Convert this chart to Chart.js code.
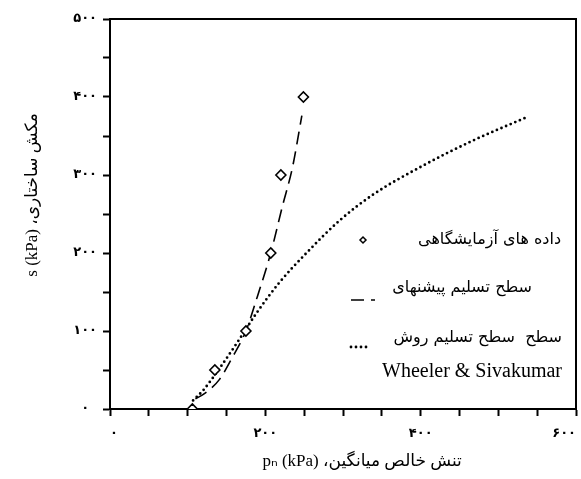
<!DOCTYPE html>
<html>
<head>
<meta charset="utf-8">
<script src="https://cdn.jsdelivr.net/npm/chart.js@4.4.1/dist/chart.umd.min.js"></script>
<style>
  html, body { margin: 0; padding: 0; background: #fff; }
  #wrap { width: 581px; height: 479px; }
</style>
</head>
<body>
<div id="wrap"><canvas id="chart" width="581" height="479"></canvas></div>
<script>
// lab data (diamonds)
const labX = [106, 135, 175, 207, 220, 249];
const labY = [0, 50, 100, 200, 300, 400];

// proposed yield surface (dashed)
const propX = [110, 122, 141, 158, 175, 190, 207, 222, 235, 247];
const propY = [13, 20, 38, 67, 100, 145, 200, 260, 310, 376];

// Wheeler & Sivakumar yield surface (dotted)
const wsX = [107, 120, 141, 167, 188, 218, 253, 296, 339, 403, 467, 534];
const wsY = [11, 24, 52, 90, 122, 162, 200, 242, 275, 312, 344, 373];

// labelled ticks, the rest every 50 are bare marks
const xTickLabels = [0, 200, 400, 600];
const yTickLabels = [0, 100, 200, 300, 400, 500];

const seriesNames = [
  'داده های آزمایشگاهی',
  'سطح تسلیم پیشنهای',
  ['سطح  سطح تسلیم روش', 'Wheeler & Sivakumar']
];
// leading nbsp's nudge the titles off-centre like the original
const nb = n => '\u00A0'.repeat(n);
const xTitle = nb(9) + '\u202Bتنش خالص میانگین، pₙ (kPa)\u202C';
const yTitle = nb(9) + '\u202Bمکش ساختاری، s (kPa)\u202C';

const faDigits = '۰۱۲۳۴۵۶۷۸۹';
const fa = v => String(v).replace(/\d/g, d => faDigits[d]);
const toPts = (xs, ys) => xs.map((x, i) => ({ x, y: ys[i] }));

const serif = "'Liberation Serif', 'DejaVu Sans', serif";

// box round the plot area, ticks only on left/bottom
const frame = {
  id: 'frame',
  afterDraw(chart) {
    const { ctx, chartArea: a } = chart;
    ctx.save();
    ctx.strokeStyle = '#000';
    ctx.lineWidth = 2;
    ctx.beginPath();
    ctx.moveTo(a.left, a.top);
    ctx.lineTo(a.right, a.top);
    ctx.lineTo(a.right, a.bottom);
    ctx.stroke();
    ctx.restore();
  }
};

// legend inside the plot, symbol on the left, text right-aligned
const legendBox = {
  id: 'legendBox',
  afterDatasetsDraw(chart) {
    const ctx = chart.ctx;
    const ds = chart.data.datasets;
    const symRows = [240, 300, 347];
    const textRows = [[240], [288], [338, 372]];
    const textRight = [561, 532, 562];
    ctx.save();
    ds.forEach((d, i) => {
      const y = symRows[i];
      ctx.strokeStyle = '#000';
      ctx.fillStyle = '#fff';
      if (d.showLine === false) {
        const cx = 363, r = 3;
        ctx.lineWidth = 1.5;
        ctx.beginPath();
        ctx.moveTo(cx - r, y); ctx.lineTo(cx, y - r); ctx.lineTo(cx + r, y); ctx.lineTo(cx, y + r);
        ctx.closePath();
        ctx.fill(); ctx.stroke();
      } else {
        ctx.lineWidth = d.borderWidth;
        ctx.lineCap = d.borderCapStyle || 'butt';
        ctx.setLineDash(d.borderDash || []);
        ctx.beginPath();
        ctx.moveTo(351, y);
        ctx.lineTo(d.borderDash[0] === 0 ? 368 : 375, y);
        ctx.stroke();
        ctx.setLineDash([]);
      }
      const lines = [].concat(d.label);
      ctx.fillStyle = '#000';
      ctx.textAlign = 'right';
      ctx.textBaseline = 'middle';
      lines.forEach((t, k) => {
        const latin = /^[A-Za-z]/.test(t);
        ctx.direction = latin ? 'ltr' : 'rtl';
        ctx.font = latin ? "20px " + serif : "16px 'DejaVu Sans'";
        ctx.fillText(t, textRight[i], textRows[i][k]);
      });
    });
    ctx.restore();
  }
};

new Chart(document.getElementById('chart'), {
  type: 'scatter',
  data: {
    datasets: [{
      label: seriesNames[0],
      data: toPts(labX, labY),
      showLine: false,
      pointStyle: 'rectRot',
      pointRadius: 5,
      pointBorderWidth: 1.6,
      pointBorderColor: '#000',
      pointBackgroundColor: '#fff',
      order: 0
    }, {
      label: seriesNames[1],
      data: toPts(propX, propY),
      showLine: true,
      borderColor: '#000',
      borderWidth: 1.6,
      borderDash: [13, 7],
      pointRadius: 0,
      cubicInterpolationMode: 'monotone',
      order: 1
    }, {
      label: seriesNames[2],
      data: toPts(wsX, wsY),
      showLine: true,
      borderColor: '#000',
      borderWidth: 2.8,
      borderDash: [0, 5],
      borderCapStyle: 'round',
      pointRadius: 0,
      cubicInterpolationMode: 'monotone',
      order: 2
    }]
  },
  options: {
    responsive: false,
    devicePixelRatio: 1,
    animation: false,
    events: [],
    layout: { padding: { top: 19, right: 5, left: 0, bottom: 0 }, autoPadding: false },
    plugins: { legend: { display: false }, tooltip: { enabled: false } },
    scales: {
      x: {
        type: 'linear',
        min: 0, max: 600,
        afterFit: s => { s.height = 70; s.paddingLeft = 0; s.paddingRight = 0; },
        border: { display: true, color: '#000', width: 2 },
        grid: { drawOnChartArea: false, drawTicks: true, tickLength: 7, tickWidth: 2, tickColor: '#000' },
        ticks: {
          stepSize: 50,
          padding: 10,
          align: 'inner',
          color: '#000',
          font: { family: 'DejaVu Sans', size: 13, weight: 'bold' },
          maxRotation: 0,
          autoSkip: false,
          callback: v => xTickLabels.includes(v) ? fa(v) : ''
        },
        title: {
          display: true,
          text: xTitle,
          color: '#000',
          font: { family: serif, size: 17 },
          padding: { top: 4, bottom: 7 }
        }
      },
      y: {
        type: 'linear',
        min: 0, max: 500,
        afterFit: s => { s.width = 110; s.paddingTop = 0; s.paddingBottom = 0; },
        border: { display: true, color: '#000', width: 2 },
        grid: { drawOnChartArea: false, drawTicks: true, tickLength: 7, tickWidth: 2, tickColor: '#000' },
        ticks: {
          stepSize: 50,
          padding: 6,
          crossAlign: 'center',
          color: '#000',
          font: { family: 'DejaVu Sans', size: 13, weight: 'bold' },
          autoSkip: false,
          callback: v => yTickLabels.includes(v) ? fa(v) : ''
        },
        title: {
          display: true,
          text: yTitle,
          color: '#000',
          font: { family: serif, size: 17 },
          padding: { top: 22, bottom: 4 }
        }
      }
    }
  },
  plugins: [frame, legendBox]
});
</script>
</body>
</html>
